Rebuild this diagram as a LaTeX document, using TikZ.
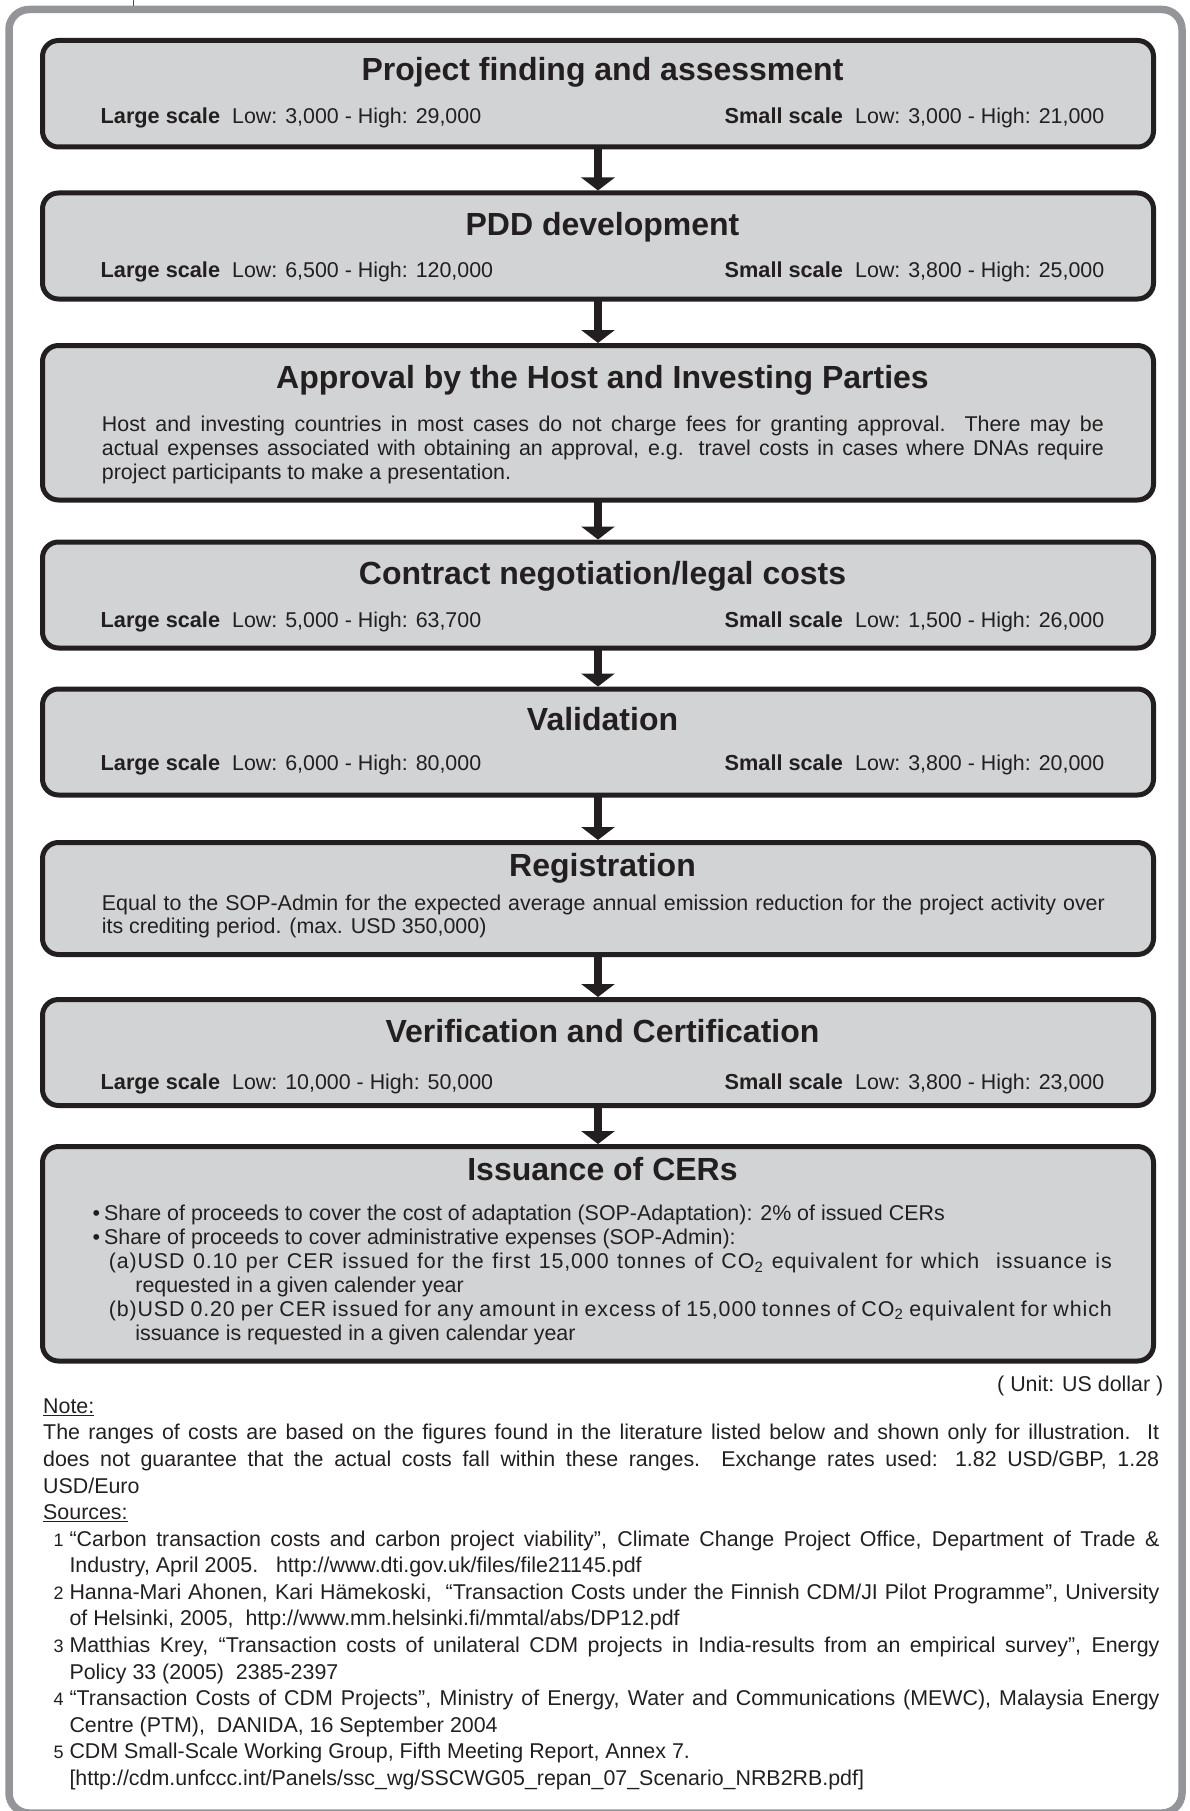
\documentclass[tikz,border=0pt]{standalone}
\usepackage{fontspec}
\setmainfont{Liberation Sans}
\usetikzlibrary{arrows.meta,calc}

\definecolor{ink}{HTML}{231F20}
\definecolor{boxfill}{HTML}{D1D3D4}
\definecolor{framegray}{HTML}{939598}

\newcommand\bodysize{\fontsize{21.4}{24}\selectfont}
\newcommand\boldsize{\fontsize{21.7}{24}\selectfont\bfseries}
\newcommand\titlesize{\fontsize{32}{38}\selectfont\bfseries}
\newcommand\numsize{\fontsize{18}{20}\selectfont}
% a line spread out to a given width
\newcommand\fillline[2]{\makebox[#1pt][s]{#2}}
% a letter-spaced line spread out to a given width
\newcommand\wideline[2]{\makebox[#1pt][s]{\addfontfeature{LetterSpace=4.2}#2}}

\begin{document}
\begin{tikzpicture}[x=1pt,y=-1pt,
  stage/.style={draw=ink, fill=boxfill, line width=5pt, rounded corners=16pt,
    minimum width=1111pt, inner sep=0pt, outer sep=0pt, anchor=north},
  ttl/.style={font=\titlesize, text=ink, anchor=base, inner sep=0pt},
  txt/.style={font=\bodysize, text=ink, anchor=base west, inner sep=0pt},
  num/.style={font=\numsize, text=ink, anchor=base west, inner sep=0pt},
  lbl/.style={txt, font=\boldsize},
  flow/.style={draw=ink, line width=8pt, -{Triangle[width=33pt,length=13pt]}},
  frame/.style={draw=framegray, line width=7.5pt, rounded corners=20pt}]

\useasboundingbox (0,0) rectangle (1189,1811);

% outer frame and the small tick above it
\draw[frame] (9,9.5) rectangle (1182,1813);
\draw[draw=ink!80, line width=0.8pt] (133,0) -- (133,6);

% stage boxes
\node[stage, minimum height=106.5pt] (b1) at (598,40.5) {};
\node[stage, minimum height=106pt]   (b2) at (598,193) {};
\node[stage, minimum height=154.5pt] (b3) at (598,345.5) {};
\node[stage, minimum height=106pt]   (b4) at (598,542) {};
\node[stage, minimum height=106pt]   (b5) at (598,689) {};
\node[stage, minimum height=112pt]   (b6) at (598,842.5) {};
\node[stage, minimum height=106pt]   (b7) at (598,999.5) {};
\node[stage, minimum height=214.5pt] (b8) at (598,1146.5) {};

% arrows between stages
\foreach \a/\b in {b1/b2,b2/b3,b3/b4,b4/b5,b5/b6,b6/b7,b7/b8}
  \draw[flow] (\a.south) -- ($(\b.north)+(0,-2.5)$);

% 1
\node[ttl] (t1) at (602.5,80.3) {Project finding and assessment};
\node[lbl] (l1) at (100.5,123.7) {Large scale};
\node[txt] (v1) at (232,123.7) {Low: 3,000 - High: 29,000};
\node[lbl] (s1) at (724.5,123.7) {Small scale};
\node[txt] (w1) at (855,123.7) {Low: 3,000 - High: 21,000};

% 2
\node[ttl] (t2) at (602.5,235.2) {PDD development};
\node[lbl] (l2) at (100.5,277.4) {Large scale};
\node[txt] (v2) at (232,277.4) {Low: 6,500 - High: 120,000};
\node[lbl] (s2) at (724.5,277.4) {Small scale};
\node[txt] (w2) at (855,277.4) {Low: 3,800 - High: 25,000};

% 3
\node[ttl] (t3) at (602.5,388.9) {Approval by the Host and Investing Parties};
\node[txt] (p3a) at (101.7,431.1) {\fillline{1002}{Host and investing countries in most cases do not charge fees for granting approval.\ \ There may be}};
\node[txt] (p3b) at (101.7,455.3) {\fillline{1002}{actual expenses associated with obtaining an approval, e.g. travel costs in cases where DNAs require}};
\node[txt] (p3c) at (101.7,479.6) {project participants to make a presentation.};

% 4
\node[ttl] (t4) at (602.5,584.1) {Contract negotiation/legal costs};
\node[lbl] (l4) at (100.5,627.5) {Large scale};
\node[txt] (v4) at (232,627.5) {Low: 5,000 - High: 63,700};
\node[lbl] (s4) at (724.5,627.5) {Small scale};
\node[txt] (w4) at (855,627.5) {Low: 1,500 - High: 26,000};

% 5
\node[ttl] (t5) at (602.5,730.9) {Validation};
\node[lbl] (l5) at (100.5,770.8) {Large scale};
\node[txt] (v5) at (232,770.8) {Low: 6,000 - High: 80,000};
\node[lbl] (s5) at (724.5,770.8) {Small scale};
\node[txt] (w5) at (855,770.8) {Low: 3,800 - High: 20,000};

% 6
\node[ttl] (t6) at (602.5,876.5) {Registration};
\node[txt] (p6a) at (101.7,910.6) {\fillline{1003}{Equal to the SOP-Admin for the expected average annual emission reduction for the project activity over}};
\node[txt] (p6b) at (101.7,933.7) {its crediting period. (max. USD 350,000)};

% 7
\node[ttl] (t7) at (602.5,1042.9) {Verification and Certification};
\node[lbl] (l7) at (100.5,1089.7) {Large scale};
\node[txt] (v7) at (232,1089.7) {Low: 10,000 - High: 50,000};
\node[lbl] (s7) at (724.5,1089.7) {Small scale};
\node[txt] (w7) at (855,1089.7) {Low: 3,800 - High: 23,000};

% 8
\node[ttl] (t8) at (602.5,1180.4) {Issuance of CERs};
\node[txt] (d8a) at (92.4,1220.3) {\textbullet};
\node[txt] (p8a) at (104,1220.3) {Share of proceeds to cover the cost of adaptation (SOP-Adaptation): 2\% of issued CERs};
\node[txt] (d8b) at (92.4,1244.5) {\textbullet};
\node[txt] (p8b) at (104,1244.5) {Share of proceeds to cover administrative expenses (SOP-Admin):};
\node[txt] (p8c) at (108.6,1268.8) {\wideline{1003}{(a)USD 0.10 per CER issued for the first 15,000 tonnes of CO\textsubscript{2} equivalent for which\ \ issuance is}};
\node[txt] (p8d) at (135.2,1292.0) {requested in a given calender year};
\node[txt] (p8e) at (108.6,1316.2) {\wideline{1003}{(b)USD 0.20 per CER issued for any amount in excess of 15,000 tonnes of CO\textsubscript{2} equivalent for which}};
\node[txt] (p8f) at (135.2,1340.4) {issuance is requested in a given calendar year};

% notes below the chart
\node[txt, anchor=base east] (unit) at (1163.5,1391.3) {( Unit: US dollar )};
\node[txt] (nh) at (43,1413.2) {\underline{Note:}};
\node[txt] (n1) at (43,1439.8) {\fillline{1116}{The ranges of costs are based on the figures found in the literature listed below and shown only for illustration.\ \ It}};
\node[txt] (n2) at (43,1466.4) {\fillline{1116}{does not guarantee that the actual costs fall within these ranges.\ \ Exchange rates used: 1.82 USD/GBP, 1.28}};
\node[txt] (n3) at (43,1493.0) {USD/Euro};
\node[txt] (sh) at (43,1519.6) {\underline{Sources:}};

\node[num] (k1) at (53.5,1546.1) {1};
\node[txt] (r1a) at (69.3,1546.1) {\fillline{1090}{“Carbon transaction costs and carbon project viability”, Climate Change Project Office, Department of Trade \&}};
\node[txt] (r1b) at (69.3,1572.7) {Industry, April 2005.\ \ \ http://www.dti.gov.uk/files/file21145.pdf};
\node[num] (k2) at (53.5,1599.3) {2};
\node[txt] (r2a) at (69.3,1599.3) {\fillline{1090}{Hanna-Mari Ahonen, Kari Hämekoski,\ \ “Transaction Costs under the Finnish CDM/JI Pilot Programme”, University}};
\node[txt] (r2b) at (69.3,1625.9) {of Helsinki, 2005,\ \ http://www.mm.helsinki.fi/mmtal/abs/DP12.pdf};
\node[num] (k3) at (53.5,1652.5) {3};
\node[txt] (r3a) at (69.3,1652.5) {\fillline{1090}{Matthias Krey, “Transaction costs of unilateral CDM projects in India-results from an empirical survey”, Energy}};
\node[txt] (r3b) at (69.3,1679.0) {Policy 33 (2005)\ \ 2385-2397};
\node[num] (k4) at (53.5,1705.6) {4};
\node[txt] (r4a) at (69.3,1705.6) {\fillline{1090}{“Transaction Costs of CDM Projects”, Ministry of Energy, Water and Communications (MEWC), Malaysia Energy}};
\node[txt] (r4b) at (69.3,1732.2) {Centre (PTM),\ \ DANIDA, 16 September 2004};
\node[num] (k5) at (53.5,1758.7) {5};
\node[txt] (r5a) at (69.3,1758.7) {CDM Small-Scale Working Group, Fifth Meeting Report, Annex 7.};
\node[txt] (r5b) at (69.3,1785.3) {[http://cdm.unfccc.int/Panels/ssc\_wg/SSCWG05\_repan\_07\_Scenario\_NRB2RB.pdf]};

\end{tikzpicture}
\end{document}
